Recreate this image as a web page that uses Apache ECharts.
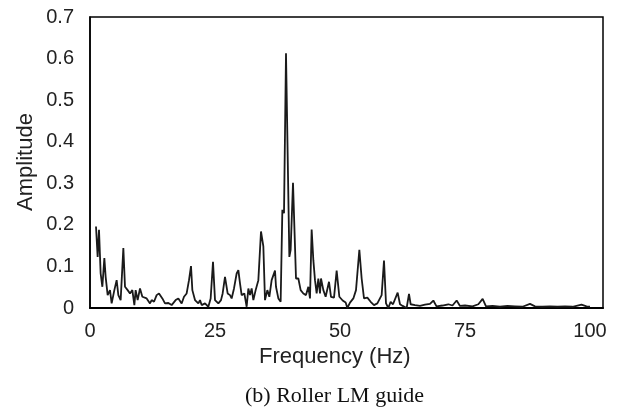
<!DOCTYPE html>
<html>
<head>
<meta charset="utf-8">
<script src="https://cdn.jsdelivr.net/npm/echarts@6/dist/echarts.min.js"></script>
<style>
html,body{margin:0;padding:0;background:#fff;}
#c{width:634px;height:414px;}
</style>
</head>
<body>
<div id="c"></div>
<script>
// Frequency (Hz)
const freq = [
  1.2, 1.53, 1.8, 2.13, 2.47, 2.87, 3.13, 3.53, 4.0, 4.33, 4.87, 5.33, 5.67, 6.13, 6.67, 7.0, 7.53, 8.0, 8.47,
  8.87, 9.13, 9.53, 10.0, 10.47, 10.87, 11.33, 12.0, 12.33, 12.8, 13.33, 13.8, 14.47, 15.0, 15.67, 16.33, 16.67, 17.13, 17.67, 18.33,
  18.8, 19.33, 19.8, 20.2, 20.47, 21.0, 21.67, 22.0, 22.33, 23.0, 23.67, 24.13, 24.6, 25.0, 25.67, 26.2, 26.53, 27.0, 27.53, 28.0,
  28.33, 28.8, 29.33, 29.67, 30.0, 30.33, 30.87, 31.33, 31.67, 32.0, 32.33, 32.67, 33.13, 33.67, 34.2, 34.67, 35.0, 35.47, 35.87, 36.33,
  37.0, 37.2, 37.67, 38.13, 38.47, 38.8, 39.2, 39.87, 40.13, 40.6, 41.2, 41.67, 42.13, 42.67, 43.2, 43.67, 44.0, 44.33, 44.67, 45.0,
  45.33, 45.67, 46.0, 46.2, 46.67, 47.13, 47.8, 48.2, 48.8, 49.33, 49.87, 50.53, 51.13, 51.47, 52.0, 52.67, 53.2, 53.87, 54.33, 54.8,
  55.47, 56.13, 56.8, 57.47, 58.33, 58.8, 59.2, 59.67, 60.13, 60.6, 61.53, 62.0, 62.53, 63.33, 63.8, 64.13, 65.0, 66.0, 67.0, 68.0,
  68.67, 69.3, 70.5, 71.67, 72.5, 73.33, 74.0, 75.0, 76.5, 77.67, 78.53, 79.2, 80.5, 82.0, 83.5, 85.0, 86.5, 88.0, 89.0, 90.5,
  92.0, 93.5, 95.0, 96.5, 98.3, 99.3, 100.0
];
// Amplitude
const amp = [
  0.196, 0.123, 0.188, 0.083, 0.051, 0.12, 0.075, 0.031, 0.043, 0.011, 0.043, 0.067, 0.031, 0.019, 0.144, 0.051, 0.043, 0.035, 0.043,
  0.007, 0.043, 0.019, 0.047, 0.027, 0.031, 0.023, 0.011, 0.019, 0.015, 0.031, 0.035, 0.023, 0.011, 0.012, 0.007, 0.003, 0.019, 0.023, 0.011,
  0.027, 0.035, 0.067, 0.101, 0.043, 0.019, 0.011, 0.019, 0.007, 0.011, 0.003, 0.023, 0.111, 0.019, 0.011, 0.019, 0.035, 0.075, 0.035, 0.031,
  0.023, 0.047, 0.083, 0.091, 0.059, 0.031, 0.035, 0.003, 0.047, 0.031, 0.047, 0.019, 0.043, 0.067, 0.184, 0.148, 0.019, 0.043, 0.027, 0.067,
  0.09, 0.051, 0.023, 0.015, 0.236, 0.228, 0.613, 0.123, 0.14, 0.301, 0.071, 0.071, 0.043, 0.035, 0.031, 0.051, 0.023, 0.189, 0.115, 0.067,
  0.035, 0.071, 0.035, 0.071, 0.043, 0.027, 0.063, 0.027, 0.025, 0.09, 0.027, 0.018, 0.013, 0.0, 0.013, 0.023, 0.043, 0.14, 0.071, 0.023,
  0.025, 0.015, 0.007, 0.011, 0.031, 0.114, 0.011, 0.0, 0.015, 0.009, 0.037, 0.009, 0.005, 0.0, 0.034, 0.009, 0.007, 0.005, 0.008, 0.01,
  0.018, 0.004, 0.006, 0.009, 0.006, 0.018, 0.005, 0.006, 0.004, 0.009, 0.022, 0.004, 0.005, 0.003, 0.005, 0.004, 0.003, 0.01, 0.004, 0.003,
  0.004, 0.003, 0.004, 0.003, 0.008, 0.004, 0.003
];
const xTicks = [0, 25, 50, 75, 100];
const yTicks = [0, 0.1, 0.2, 0.3, 0.4, 0.5, 0.6, 0.7];

const pts = freq.map((f, i) => [f, amp[i]]);
const chart = echarts.init(document.getElementById('c'), null, {renderer: 'canvas'});
chart.setOption({
  animation: false,
  backgroundColor: '#fff',
  grid: {left: 90, right: 31, top: 17, bottom: 106, show: true, borderColor: '#000', borderWidth: 1.5, backgroundColor: 'transparent'},
  xAxis: {
    type: 'value', min: 0, max: 102.6, interval: 25,
    axisLine: {show: true, lineStyle: {color: '#000', width: 2}},
    axisTick: {show: false}, splitLine: {show: false},
    axisLabel: {
      margin: 13, color: '#222', fontFamily: 'Liberation Sans, Arial', fontSize: 20,
      formatter: v => xTicks.includes(v) ? String(v) : ''
    }
  },
  yAxis: {
    type: 'value', min: 0, max: 0.7, interval: 0.1,
    axisLine: {show: true, lineStyle: {color: '#000', width: 1.5}},
    axisTick: {show: false}, splitLine: {show: false},
    axisLabel: {
      margin: 16, color: '#222', fontFamily: 'Liberation Sans, Arial', fontSize: 20,
      formatter: v => {
        const t = yTicks.find(y => Math.abs(y - v) < 1e-6);
        if (t === undefined) return '';
        return t === 0 ? '0' : t.toFixed(1);
      }
    }
  },
  graphic: [
    {type: 'text', left: 259, top: 346, style: {text: 'Frequency (Hz)', font: '22px "Liberation Sans", Arial', fill: '#222'}},
    {type: 'text', x: 26, y: 162, rotation: Math.PI / 2, style: {text: 'Amplitude', font: '22px "Liberation Sans", Arial', fill: '#222', align: 'center', verticalAlign: 'middle'}},
    {type: 'text', left: 245, top: 385, style: {text: '(b) Roller LM guide', font: '22px "Liberation Serif", "Times New Roman", serif', fill: '#111'}}
  ],
  series: [{
    type: 'line', data: pts, showSymbol: false, symbol: 'none',
    lineStyle: {color: '#1a1a1a', width: 1.8}
  }]
});
</script>
</body>
</html>
